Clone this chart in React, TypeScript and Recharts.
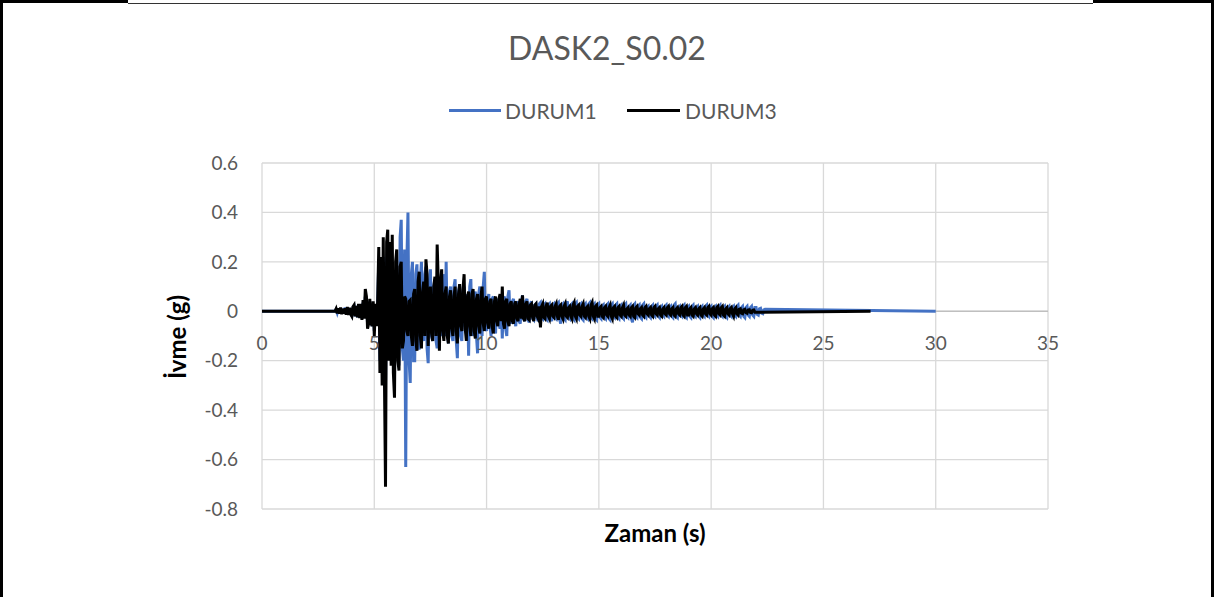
import React from "react";
import { LineChart, Line, XAxis, YAxis, CartesianGrid, ReferenceLine } from "recharts";

// acceleration records, one row per second, 0.05 s step (from 3.0 s)
const DT = 0.05;
const RECORD_START = 3;

const durum1Values = [
  0, 0, 0, 0, 0, 0, 0.008, -0.006, 0.01, -0.01, 0.012, -0.01, 0.01, -0.008, 0.015, -0.012, 0.012, -0.01, 0.012, -0.01,
  -0.018, 0.015, 0.02, -0.02, 0.022, -0.025, 0.025, -0.02, 0.028, -0.03, 0.035, -0.025, 0.06, 0.04, -0.05, -0.03, 0.04, -0.03, -0.06, 0.03,
  -0.08, 0.02, -0.04, 0.035, 0.2, -0.2, 0.18, -0.25, 0.22, -0.2, -0.3, 0.2, 0.25, -0.18, 0.2, -0.2, 0.2, -0.18, -0.25, 0.15,
  0.15, -0.12, -0.22, 0.3, 0.37, -0.15, -0.2, 0.25, -0.63, 0.2, 0.4, -0.2, -0.29, 0.15, 0.2, -0.2, -0.2, 0.15, 0.19, -0.15,
  -0.15, 0.12, 0.2, -0.1, -0.12, 0.15, 0.18, -0.15, -0.21, 0.12, 0.17, -0.1, -0.12, 0.1, 0.13, -0.12, -0.15, 0.1, 0.12, -0.08,
  -0.1, 0.1, 0.15, -0.1, 0.2, -0.08, -0.13, 0.08, 0.1, -0.1, -0.12, 0.1, 0.13, -0.12, -0.19, 0.08, 0.1, -0.1, -0.12, 0.08,
  0.1, -0.06, -0.09, 0.07, -0.18, 0.1, 0.13, -0.08, -0.1, 0.06, 0.08, -0.1, -0.17, 0.07, 0.1, -0.08, -0.1, 0.1, 0.16, -0.06,
  -0.08, 0.05, 0.07, -0.06, -0.1, 0.05, 0.06, -0.06, -0.09, 0.04, 0.05, -0.05, -0.07, 0.04, -0.11, 0.05, 0.06, -0.07, -0.1, 0.06,
  0.085, -0.04, -0.05, 0.04, 0.05, -0.04, -0.06, 0.03, 0.04, -0.04, -0.05, 0.04, 0.065, -0.03, -0.04, 0.04, 0.05, -0.035, -0.045, 0.03,
  0.04, -0.03, -0.035, 0.025, 0.03, -0.03, -0.04, 0.03, 0.035, -0.025, -0.03, 0.025, 0.03, -0.03, -0.035, 0.025, 0.03, -0.03, -0.04, 0.025,
  0.03, -0.025, -0.03, 0.03, 0.035, -0.03, -0.05, 0.025, 0.03, -0.03, -0.035, 0.03, 0.04, -0.025, -0.03, 0.025, 0.03, -0.03, -0.035, 0.03,
  0.035, -0.025, -0.03, 0.025, 0.03, -0.03, -0.035, 0.025, 0.03, -0.025, -0.03, 0.03, 0.035, -0.025, -0.03, 0.025, 0.03, -0.03, -0.035, 0.025,
  0.03, -0.025, -0.03, 0.02, 0.025, -0.025, -0.03, 0.025, 0.03, -0.03, -0.035, 0.025, 0.03, -0.02, -0.025, 0.025, 0.03, -0.025, -0.03, 0.02,
  0.025, -0.025, -0.03, 0.025, 0.03, -0.02, -0.025, 0.02, 0.025, -0.03, -0.045, 0.025, 0.03, -0.02, -0.025, 0.02, 0.025, -0.025, -0.03, 0.025,
  0.03, -0.02, -0.025, 0.015, 0.02, -0.02, -0.025, 0.02, 0.025, -0.015, -0.02, 0.02, 0.025, -0.02, -0.025, 0.015, 0.02, -0.015, -0.02, 0.02,
  0.025, -0.015, -0.02, 0.015, 0.02, -0.02, -0.025, 0.025, 0.03, -0.02, -0.025, 0.015, 0.02, -0.015, -0.02, 0.02, 0.025, -0.02, -0.025, 0.015,
  0.02, -0.02, -0.025, 0.02, 0.025, -0.015, -0.02, 0.015, 0.02, -0.02, -0.025, 0.015, 0.02, -0.015, -0.02, 0.02, 0.025, -0.015, -0.02, 0.015,
  0.02, -0.02, -0.025, 0.015, 0.02, -0.015, -0.02, 0.02, 0.025, -0.015, -0.02, 0.015, 0.02, -0.02, -0.025, 0.015, 0.02, -0.015, -0.02, 0.015,
  0.02, -0.015, -0.02, 0.02, 0.025, -0.015, -0.02, 0.015, 0.02, -0.02, -0.025, 0.015, 0.02, -0.015, -0.02, 0.015, 0.02, -0.015, -0.02, 0.015,
  0.015, -0.012, -0.015, 0.01, 0.012, -0.008, -0.01, 0.006, 0.008,
];
const durum1End = 30;

const durum3Values = [
  0, 0, 0, 0, 0, 0, 0.01, -0.008, 0.012, -0.01, 0.015, -0.012, 0.01, -0.01, 0.012, -0.014, 0.018, -0.015, 0.014, -0.012,
  -0.02, 0.018, 0.025, -0.02, 0.022, -0.025, 0.03, -0.028, 0.03, -0.035, 0.045, -0.03, 0.09, 0.06, -0.07, -0.05, 0.05, -0.04, -0.06, 0.04,
  -0.1, 0.03, -0.06, 0.04, 0.26, -0.25, 0.22, -0.3, 0.3, -0.25, -0.71, 0.28, 0.33, -0.2, 0.28, -0.22, 0.31, -0.25, -0.35, 0.2,
  0.25, -0.2, -0.24, 0.18, 0.2, -0.15, -0.12, 0.06, 0.05, -0.08, -0.1, 0.04, 0.045, -0.1, -0.14, 0.07, 0.09, -0.12, -0.16, 0.12,
  0.16, -0.1, -0.15, 0.08, 0.12, -0.1, 0.21, 0.15, -0.14, 0.06, 0.1, -0.09, -0.12, 0.1, 0.14, -0.1, 0.27, 0.12, -0.16, 0.1,
  0.17, -0.08, -0.12, 0.07, 0.1, -0.1, -0.13, 0.06, 0.085, -0.07, -0.1, 0.06, 0.1, -0.08, -0.13, 0.07, 0.11, -0.06, -0.08, 0.09,
  0.15, -0.07, -0.12, 0.06, 0.08, -0.06, -0.1, 0.07, 0.09, -0.08, -0.11, 0.05, 0.07, -0.06, -0.09, 0.06, 0.1, -0.05, -0.08, 0.05,
  0.06, -0.05, -0.07, 0.04, 0.05, -0.06, -0.09, 0.04, 0.06, -0.04, -0.06, 0.05, 0.07, -0.04, 0.1, -0.05, -0.07, 0.04, 0.05, -0.04,
  -0.06, 0.03, 0.04, -0.04, -0.05, 0.03, 0.04, -0.03, -0.04, 0.03, 0.05, -0.03, 0.065, -0.03, -0.04, 0.03, 0.04, -0.03, -0.035, 0.025,
  0.03, -0.025, -0.04, 0.025, 0.03, -0.02, -0.03, 0.02, -0.065, 0.02, 0.03, -0.025, -0.03, 0.02, 0.035, -0.02, -0.03, 0.02, 0.025, -0.02,
  -0.025, 0.02, 0.03, -0.02, -0.035, 0.02, 0.025, -0.02, -0.03, 0.02, 0.03, -0.02, -0.025, 0.015, 0.02, -0.02, -0.03, 0.025, 0.035, -0.02,
  -0.03, 0.02, 0.025, -0.015, -0.02, 0.02, 0.03, -0.02, -0.025, 0.015, 0.02, -0.02, -0.03, 0.025, 0.035, -0.02, -0.03, 0.02, 0.025, -0.02,
  -0.02, 0.015, 0.02, -0.02, -0.025, 0.015, 0.02, -0.015, -0.02, 0.015, 0.025, -0.02, -0.03, 0.015, 0.02, -0.02, -0.025, 0.015, 0.02, -0.015,
  -0.02, 0.015, 0.025, -0.015, -0.02, 0.01, 0.015, -0.015, -0.02, 0.015, 0.02, -0.02, -0.025, 0.015, 0.02, -0.01, -0.015, 0.01, 0.015, -0.015,
  -0.02, 0.015, 0.02, -0.01, -0.015, 0.01, 0.015, -0.015, -0.02, 0.015, 0.02, -0.01, -0.015, 0.01, 0.015, -0.015, -0.02, 0.01, 0.015, -0.01,
  -0.015, 0.015, 0.02, -0.01, -0.015, 0.01, 0.015, -0.015, -0.02, 0.01, 0.015, -0.01, -0.015, 0.015, 0.02, -0.015, -0.02, 0.015, 0.02, -0.015,
  -0.015, 0.01, 0.015, -0.015, -0.02, 0.01, 0.015, -0.01, -0.015, 0.01, 0.015, -0.015, -0.02, 0.01, 0.015, -0.01, -0.015, 0.015, 0.02, -0.01,
  -0.015, 0.01, 0.015, -0.015, -0.02, 0.015, 0.02, -0.01, -0.015, 0.015, 0.02, -0.015, -0.02, 0.01, 0.015, -0.01, -0.015, 0.01, 0.015, -0.01,
  -0.02, 0.01, 0.015, -0.01, -0.015, 0.008, 0.01, -0.008, -0.01, 0.006, 0.008, -0.006, -0.008, 0.005, 0.006, -0.005, -0.006, 0.004, 0.005, -0.004,
];
const durum3End = 27.1;

const xTicks = [0, 5, 10, 15, 20, 25, 30, 35];
const yTicks = [-0.8, -0.6, -0.4, -0.2, 0, 0.2, 0.4, 0.6];

const toRows = (values: number[], end: number) => [
  { t: 0, v: 0 },
  ...values.map((v, i) => ({ t: +(RECORD_START + i * DT).toFixed(2), v })),
  { t: end, v: 0 },
];

const durum1Rows = toRows(durum1Values, durum1End);
const durum3Rows = toRows(durum3Values, durum3End);

const W = 1214;
const H = 597;
const PLOT_TOP = 163;
const PLOT_BOTTOM = 509;
const Y_MIN = -0.8;
const Y_MAX = 0.6;
const ZERO_Y = PLOT_TOP + ((PLOT_BOTTOM - PLOT_TOP) * Y_MAX) / (Y_MAX - Y_MIN);

const FONT = "Lato, 'Open Sans', sans-serif";
const GREY = "#595959";

function XTick(props: any) {
  const { x, payload } = props;
  return (
    <text x={x} y={ZERO_Y + 31} textAnchor="middle" dominantBaseline="central" fill={GREY} fontSize={19} fontFamily={FONT}>
      {payload.value}
    </text>
  );
}

export default function App() {
  return (
    <div style={{ position: "relative", width: W, height: H, background: "#fff", fontFamily: FONT }}>
      <style>{`body{margin:0}`}</style>
      {/* frame */}
      <div style={{ position: "absolute", left: 0, top: 0, width: 128, height: 3, background: "#000" }} />
      <div style={{ position: "absolute", left: 128, top: 3, width: 965, height: 1, background: "#333" }} />
      <div style={{ position: "absolute", left: 1093, top: 0, width: 121, height: 3, background: "#000" }} />
      <div style={{ position: "absolute", left: 0, top: 0, width: 3, height: H, background: "#000" }} />
      <div style={{ position: "absolute", left: 1211, top: 0, width: 3, height: H, background: "#000" }} />

      <div style={{ position: "absolute", left: 0, width: W, top: 29, textAlign: "center", fontSize: 32, color: GREY, lineHeight: "38px" }}>
        DASK2_S0.02
      </div>

      <div style={{ position: "absolute", left: 449, top: 98, display: "flex", alignItems: "center", fontSize: 21, color: GREY }}>
        <span style={{ width: 52, height: 3, background: "#4472C4", marginRight: 4 }} />
        <span>DURUM1</span>
      </div>
      <div style={{ position: "absolute", left: 627, top: 98, display: "flex", alignItems: "center", fontSize: 21, color: GREY }}>
        <span style={{ width: 53, height: 3, background: "#000", marginRight: 5 }} />
        <span>DURUM3</span>
      </div>

      <div style={{ position: "absolute", left: 176, top: 337, transform: "translate(-50%,-50%) rotate(-90deg)", fontSize: 24, fontWeight: 700, color: "#000", whiteSpace: "nowrap" }}>
        İvme (g)
      </div>
      <div style={{ position: "absolute", left: 655, top: 532, transform: "translate(-50%,-50%)", fontSize: 24, fontWeight: 700, color: "#000", whiteSpace: "nowrap" }}>
        Zaman (s)
      </div>

      <div style={{ position: "absolute", left: 0, top: 0 }}>
        <LineChart width={W} height={H} margin={{ top: PLOT_TOP, right: 166, bottom: 58, left: 202 }}>
          <CartesianGrid stroke="#d9d9d9" strokeWidth={1.3} />
          <XAxis
            type="number"
            dataKey="t"
            domain={[0, 35]}
            ticks={xTicks}
            axisLine={false}
            tickLine={false}
            height={30}
            tick={<XTick />}
            interval={0}
          />
          <YAxis
            type="number"
            domain={[Y_MIN, Y_MAX]}
            ticks={yTicks}
            width={60}
            axisLine={false}
            tickLine={false}
            tickMargin={18}
            interval={0}
            tick={{ fill: GREY, fontSize: 19, fontFamily: FONT }}
            tickFormatter={(v: number) => String(+v.toFixed(1))}
          />
          <ReferenceLine y={0} stroke="#bfbfbf" strokeWidth={1.5} />
          <Line
            data={durum1Rows}
            dataKey="v"
            name="DURUM1"
            type="linear"
            stroke="#4472C4"
            strokeWidth={3}
            dot={false}
            isAnimationActive={false}
          />
          <Line
            data={durum3Rows}
            dataKey="v"
            name="DURUM3"
            type="linear"
            stroke="#000000"
            strokeWidth={3}
            dot={false}
            isAnimationActive={false}
          />
        </LineChart>
      </div>
    </div>
  );
}
